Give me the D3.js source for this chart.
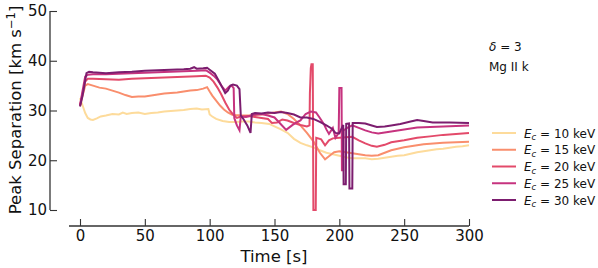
<!DOCTYPE html>
<html><head><meta charset="utf-8">
<script src="https://cdn.jsdelivr.net/npm/d3@7"></script>
<style>
body{margin:0;background:#fff;}
svg{display:block;font-family:"DejaVu Sans",sans-serif;}
</style></head>
<body>
<svg id="c" width="598" height="268"></svg>
<script>
// ---- data ----
const labels = ["10", "15", "20", "25", "30"];
const colors = ["#fddb9b", "#f98e6d", "#e34a6a", "#c6337f", "#7c1d6f"];
const xTicks = [0, 50, 100, 150, 200, 250, 300];
const yTicks = [10, 20, 30, 40, 50];

const ec10 = [[0,32.5],[2,31],[4,29.5],[6,28.5],[8,28.2],[10,28.1],[13,28.4],[16,28.8],[20,29],[25,29.3],[30,29.2],[33,29.6],[36,29.3],[40,29.5],[45,29.6],[50,29.3],[55,29.5],[60,29.6],[65,29.8],[70,29.9],[75,30],[80,30.1],[85,30.3],[90,30.4],[94,30.2],[99,30.3],[100,29.2],[102,28.8],[105,28.3],[110,27.9],[115,27.7],[120,27.7],[125,27.8],[130,27.8],[135,27.6],[140,27.5],[146,27.3],[150,26.8],[155,26.2],[160,25.5],[165,24.3],[170,23.5],[175,23],[181,22.5],[185,22],[190,21.5],[195,21.2],[200,20.9],[205,20.6],[210,20.4],[215,20.4],[220,20.4],[225,20.2],[230,20.3],[235,20.5],[240,20.7],[245,20.9],[250,21],[255,21.3],[260,21.6],[265,21.8],[270,22],[275,22.2],[280,22.3],[285,22.5],[290,22.7],[295,22.8],[300,23]];

const ec15 = [[0,31],[2,33],[4,35],[6,35.3],[10,35],[15,34.6],[20,34.4],[25,34],[30,33.6],[35,33.1],[40,32.7],[45,32.8],[50,32.8],[55,33],[60,33.2],[65,33.4],[70,33.5],[75,33.6],[80,33.8],[85,34],[90,34.1],[95,34.4],[98,34.7],[100,33.8],[102,33],[105,32],[108,31],[111,30.2],[114,29.6],[117,29.2],[120,29.1],[125,29],[130,29],[135,29.1],[140,29.2],[145,29.4],[150,29.6],[155,29.8],[160,29.3],[165,28.3],[170,27],[175,25.5],[180,23.8],[185,21.5],[189,20.2],[192,20.8],[196,21.6],[200,21.8],[205,21.6],[210,21.4],[215,21.2],[220,21],[225,20.9],[230,21],[235,21.5],[240,22],[245,22.3],[250,22.6],[255,22.8],[260,23],[265,23.2],[270,23.3],[275,23.4],[280,23.5],[290,23.6],[300,23.7]];

const ec20 = [[0,31],[2,33.5],[4,35.8],[6,36.4],[10,36.4],[20,36.3],[30,36.2],[40,36.4],[50,36.5],[60,36.6],[70,36.7],[80,36.8],[90,36.9],[97,37],[100,36.6],[103,35.8],[106,34.6],[109,33.2],[112,31.6],[115,30.2],[118,29.2],[121,28.5],[124,28.8],[130,28.9],[135,28.7],[140,28.5],[145,28.3],[148,27.5],[152,27.6],[156,28.2],[160,28],[165,27.5],[170,27.1],[175,26.8],[177,27],[177.3,33.5],[177.6,35.5],[178,38.5],[178.5,39.3],[179.5,39.3],[180,10],[181.8,10],[182.2,24.5],[186,24.2],[189,23],[192,24],[195,24.4],[200,24.5],[205,24.6],[210,24.7],[215,24],[220,23.4],[225,22.9],[229,22.7],[235,23.1],[240,23.6],[250,24],[260,24.5],[270,24.8],[280,25.1],[290,25.3],[300,25.5]];

const ec25 = [[0,31],[2,34],[4,36.8],[6,37.2],[10,37.3],[20,37.3],[30,37.4],[40,37.5],[50,37.6],[60,37.7],[70,37.8],[80,37.9],[90,38],[97,38.1],[100,37.6],[103,37],[106,36.2],[109,35],[112,34],[115,34.8],[117,35],[118.5,34.5],[119,28.5],[121,27],[123,26],[124,28.8],[128,28.7],[132,29],[136,29.2],[140,29.3],[145,29],[150,28.6],[154,27.5],[159,26.1],[164,27.1],[167,27.6],[170,28],[174,29.3],[178,29.8],[182,29.6],[185,28.5],[188,27.3],[190,26.2],[192,25.3],[195,26.5],[197,24.5],[199.5,25.5],[200,34.5],[201.7,34.5],[202,18],[203,18],[203.3,26],[206,26.5],[210,27],[215,26.5],[220,26],[225,25.6],[230,25.4],[235,25.6],[240,25.8],[250,26.2],[260,26.6],[270,26.7],[280,26.8],[290,26.9],[300,27]];

const ec30 = [[0,30.8],[2,33],[4,36],[5,37.5],[7,37.8],[10,37.7],[15,37.6],[20,37.5],[25,37.6],[30,37.7],[40,37.8],[50,38],[60,38.1],[70,38.2],[80,38.3],[85,38.4],[88,38.7],[90,38.4],[95,38.5],[98,38.6],[100,38.2],[104,37.4],[107,36],[110,34.5],[112,33.5],[114,34],[116,35],[118,35.2],[121,35],[123,34.3],[124,29],[126,28.3],[129,27],[131.5,25.5],[132.5,29.3],[135,29.5],[140,29.4],[145,29.6],[150,29.5],[155,29.7],[160,29.5],[165,29.2],[170,28.6],[175,28.6],[180,28.3],[185,27.7],[190,27],[194,26.4],[197,25.5],[200,25.4],[201,26],[203,27.1],[203.3,15.2],[205,15.2],[205.3,27.3],[207.5,27.4],[207.8,14.3],[210,14.3],[210.3,27.5],[215,27.5],[220,27.4],[225,27],[229,26.7],[235,26.8],[240,27],[247,27.3],[255,27.8],[260,28.1],[265,27.9],[272,27.6],[285,27.6],[300,27.5]];

const series = [ec10, ec15, ec20, ec25, ec30];

// ---- drawing ----
const svg = d3.select("#c");
const x = d3.scaleLinear().domain([0, 300]).range([80, 469]);
const y = d3.scaleLinear().domain([10, 50]).range([210, 11]);
const ink = "#333";

// y axis (spine at x=50)
const yAxisG = svg.append("g").attr("transform", "translate(50,0)");
yAxisG.call(d3.axisLeft(y).tickValues(d3.range(10, 51, 2)).tickSize(-4).tickFormat(""));
yAxisG.call(d3.axisLeft(y).tickValues(yTicks).tickSize(-7).tickPadding(3).tickFormat(d3.format("d")));
yAxisG.selectAll(".domain").remove();
yAxisG.append("line").attr("x1", 0).attr("x2", 0).attr("y1", y(10)).attr("y2", y(50))
  .attr("stroke", ink).attr("stroke-width", 1.3);
yAxisG.selectAll(".tick line").attr("stroke", ink).attr("stroke-width", 1.1);
yAxisG.selectAll("text").attr("font-size", 15).attr("fill", "#111").attr("font-family", "DejaVu Sans");

// x axis (spine at y=226)
const xAxisG = svg.append("g").attr("transform", "translate(0,226)");
xAxisG.call(d3.axisBottom(x).tickValues(d3.range(0, 301, 10)).tickSize(-4).tickFormat(""));
xAxisG.call(d3.axisBottom(x).tickValues(xTicks).tickSize(-7).tickPadding(4).tickFormat(d3.format("d")));
xAxisG.selectAll(".domain").remove();
xAxisG.append("line").attr("x1", x(-8.5)).attr("x2", x(300)).attr("y1", 0).attr("y2", 0)
  .attr("stroke", ink).attr("stroke-width", 1.3);
xAxisG.selectAll(".tick line").attr("stroke", ink).attr("stroke-width", 1.1);
xAxisG.selectAll("text").attr("font-size", 15).attr("fill", "#111").attr("font-family", "DejaVu Sans");

// lines
const line = d3.line().x(d => x(d[0])).y(d => y(d[1])).curve(d3.curveLinear);
series.forEach((s, i) => {
  svg.append("path").datum(s).attr("d", line)
    .attr("fill", "none").attr("stroke", colors[i]).attr("stroke-width", 2)
    .attr("stroke-linejoin", "miter").attr("stroke-linecap", "butt");
});

// axis labels
svg.append("text").attr("x", 274).attr("y", 262).attr("text-anchor", "middle")
  .attr("font-size", 16.5).attr("fill", "#111").text("Time [s]");
const yl = svg.append("text").attr("transform", "translate(21,110) rotate(-90)")
  .attr("text-anchor", "middle").attr("font-size", 16.5).attr("fill", "#111");
yl.append("tspan").text("Peak Separation [km s");
yl.append("tspan").attr("font-size", 11.5).attr("dy", -6).text("\u22121");
yl.append("tspan").attr("dy", 6).text("]");

// annotations
const ann = svg.append("text").attr("x", 489).attr("y", 51).attr("font-size", 12).attr("fill", "#111");
ann.append("tspan").attr("font-style", "italic").text("\u03b4");
ann.append("tspan").text(" = 3");
svg.append("text").attr("x", 489).attr("y", 71).attr("font-size", 12).attr("fill", "#111").text("Mg II k");

// legend
const leg = svg.append("g");
const legY = d3.scalePoint().domain(labels).range([133, 200]);
labels.forEach((lab, i) => {
  const yy = legY(lab);
  leg.append("line").attr("x1", 492).attr("x2", 516).attr("y1", yy).attr("y2", yy)
    .attr("stroke", colors[i]).attr("stroke-width", 2);
  const t = leg.append("text").attr("x", 524).attr("y", yy + 4.5).attr("font-size", 12).attr("fill", "#111");
  t.append("tspan").attr("font-style", "italic").text("E");
  t.append("tspan").attr("font-style", "italic").attr("font-size", 8.5).attr("dy", 2.5).text("c");
  t.append("tspan").attr("dy", -2.5).text(" = " + lab + " keV");
});
</script>
</body></html>
